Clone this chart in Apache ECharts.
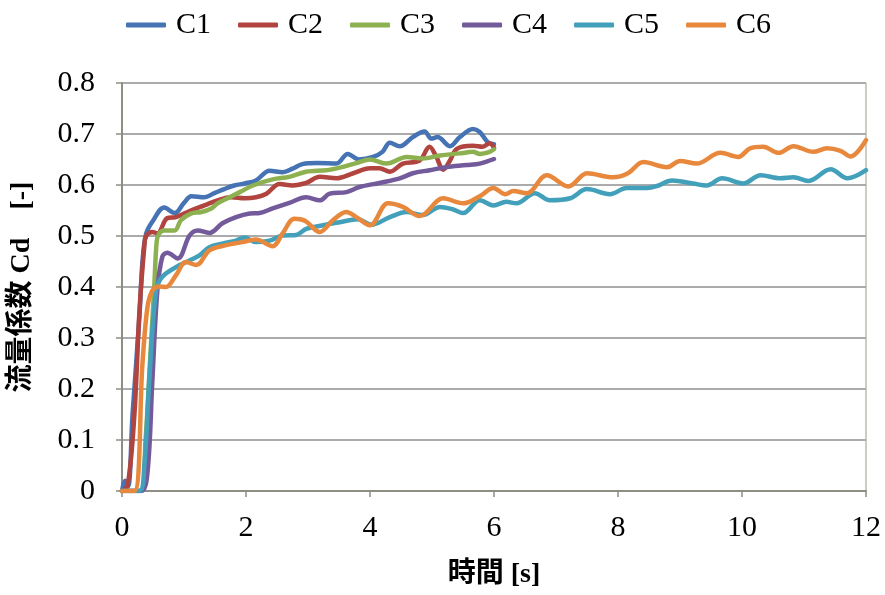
<!DOCTYPE html>
<html>
<head>
<meta charset="utf-8">
<script src="https://cdn.jsdelivr.net/npm/echarts@6/dist/echarts.min.js"></script>
<style>
  html, body { margin: 0; padding: 0; background: #ffffff; }
  #chart { width: 885px; height: 595px; }
</style>
</head>
<body>
<div id="chart"></div>
<script>
// Flow coefficient Cd vs time for six cases
const seriesNames = ['C1', 'C2', 'C3', 'C4', 'C5', 'C6'];
const xTicks = [0, 2, 4, 6, 8, 10, 12];
const yTicks = [0, 0.1, 0.2, 0.3, 0.4, 0.5, 0.6, 0.7, 0.8];

const tC1 = [0, 0.05, 0.1, 0.17, 0.28, 0.33, 0.39, 0.5, 0.68, 0.85, 1.0, 1.12, 1.33, 1.49, 1.65, 1.81, 1.98, 2.16, 2.38, 2.59, 2.75, 2.91, 3.15, 3.46, 3.64, 3.82, 4.05, 4.2, 4.32, 4.48, 4.69, 4.88, 4.99, 5.09, 5.29, 5.45, 5.66, 5.77, 5.9, 6.0];
const cdC1 = [0, 0.02, 0.01, 0.15, 0.34, 0.45, 0.505, 0.53, 0.556, 0.545, 0.565, 0.578, 0.576, 0.584, 0.592, 0.599, 0.603, 0.609, 0.628, 0.625, 0.632, 0.641, 0.643, 0.642, 0.661, 0.65, 0.655, 0.665, 0.683, 0.676, 0.694, 0.705, 0.691, 0.694, 0.676, 0.694, 0.71, 0.704, 0.684, 0.68];

const tC2 = [0, 0.09, 0.2, 0.28, 0.36, 0.39, 0.49, 0.57, 0.73, 0.87, 1.11, 1.33, 1.54, 1.76, 1.98, 2.16, 2.33, 2.54, 2.75, 2.97, 3.19, 3.46, 3.73, 4.0, 4.15, 4.32, 4.53, 4.8, 4.96, 5.07, 5.18, 5.29, 5.4, 5.66, 5.82, 5.93, 6.0];
const cdC2 = [0, 0.01, 0.15, 0.35, 0.48, 0.5, 0.508, 0.505, 0.535, 0.537, 0.55, 0.56, 0.57, 0.576, 0.574, 0.576, 0.583, 0.602, 0.599, 0.604, 0.616, 0.613, 0.623, 0.633, 0.633, 0.626, 0.642, 0.648, 0.675, 0.655, 0.63, 0.648, 0.671, 0.677, 0.675, 0.682, 0.673];

const tC3 = [0, 0.3, 0.38, 0.45, 0.52, 0.56, 0.6, 0.68, 0.85, 0.95, 1.11, 1.28, 1.44, 1.54, 1.7, 1.9, 2.11, 2.43, 2.7, 2.97, 3.3, 3.51, 3.78, 4.0, 4.27, 4.59, 4.85, 5.13, 5.45, 5.66, 5.77, 5.93, 6.0];
const cdC3 = [0, 0, 0.1, 0.25, 0.4, 0.49, 0.505, 0.511, 0.511, 0.531, 0.544, 0.547, 0.554, 0.564, 0.574, 0.586, 0.599, 0.611, 0.616, 0.626, 0.629, 0.634, 0.643, 0.65, 0.642, 0.655, 0.652, 0.658, 0.662, 0.665, 0.661, 0.665, 0.67];

const tC4 = [0, 0.31, 0.41, 0.49, 0.57, 0.65, 0.73, 0.9, 1.09, 1.22, 1.41, 1.62, 1.84, 2.06, 2.22, 2.43, 2.7, 2.97, 3.19, 3.35, 3.62, 3.83, 4.15, 4.48, 4.69, 4.96, 5.23, 5.56, 5.77, 6.0];
const cdC4 = [0, 0, 0.035, 0.217, 0.393, 0.459, 0.467, 0.456, 0.501, 0.511, 0.506, 0.525, 0.537, 0.544, 0.545, 0.554, 0.565, 0.576, 0.57, 0.583, 0.586, 0.596, 0.604, 0.613, 0.623, 0.629, 0.635, 0.639, 0.642, 0.651];

const tC5 = [0, 0.28, 0.36, 0.44, 0.55, 0.65, 0.87, 1.09, 1.25, 1.41, 1.62, 1.84, 1.98, 2.16, 2.38, 2.59, 2.81, 2.97, 3.24, 3.51, 3.8, 4.02, 4.32, 4.59, 4.85, 5.13, 5.34, 5.5, 5.77, 5.99, 6.2, 6.36, 6.66, 6.9, 7.23, 7.5, 7.87, 8.14, 8.47, 8.63, 8.87, 9.21, 9.43, 9.68, 10.02, 10.3, 10.62, 10.83, 11.07, 11.43, 11.7, 12.0];
const cdC5 = [0, 0, 0.05, 0.217, 0.393, 0.42, 0.439, 0.452, 0.462, 0.478, 0.485, 0.491, 0.497, 0.488, 0.491, 0.501, 0.502, 0.514, 0.521, 0.527, 0.533, 0.522, 0.537, 0.547, 0.541, 0.557, 0.552, 0.545, 0.57, 0.56, 0.567, 0.564, 0.584, 0.57, 0.574, 0.592, 0.582, 0.594, 0.594, 0.598, 0.609, 0.603, 0.599, 0.613, 0.603, 0.619, 0.613, 0.615, 0.608, 0.631, 0.613, 0.629];

const tC6 = [0, 0.2, 0.33, 0.41, 0.49, 0.6, 0.71, 0.87, 1.03, 1.2, 1.41, 1.68, 1.94, 2.16, 2.43, 2.59, 2.78, 2.95, 3.19, 3.4, 3.62, 3.78, 4.0, 4.29, 4.53, 4.8, 5.18, 5.5, 5.77, 5.99, 6.18, 6.31, 6.53, 6.85, 7.2, 7.5, 7.92, 8.16, 8.41, 8.79, 9.0, 9.27, 9.65, 9.94, 10.13, 10.34, 10.59, 10.83, 11.15, 11.37, 11.59, 11.75, 12.0];
const cdC6 = [0, 0, 0.25, 0.36, 0.393, 0.401, 0.4, 0.423, 0.449, 0.443, 0.472, 0.482, 0.488, 0.493, 0.48, 0.505, 0.534, 0.53, 0.508, 0.531, 0.547, 0.537, 0.521, 0.564, 0.557, 0.539, 0.574, 0.564, 0.578, 0.594, 0.582, 0.588, 0.584, 0.619, 0.597, 0.623, 0.615, 0.623, 0.645, 0.635, 0.647, 0.642, 0.663, 0.655, 0.672, 0.675, 0.663, 0.676, 0.665, 0.672, 0.667, 0.656, 0.688];

const times = [tC1, tC2, tC3, tC4, tC5, tC6];
const values = [cdC1, cdC2, cdC3, cdC4, cdC5, cdC6];
const colors = ['#4573B3', '#B2443F', '#8DB150', '#735A9B', '#42A0BA', '#E8883C'];

const serif = '"Liberation Serif", "Times New Roman", serif';
// Latin glyphs in a bold serif, kanji fall back to the CJK gothic
const titleFont = '"Liberation Serif", "Noto Sans CJK JP", sans-serif';

const chart = echarts.init(document.getElementById('chart'), null, { renderer: 'canvas' });

const series = seriesNames.map((name, i) => ({
  name: name,
  type: 'line',
  data: times[i].map((t, k) => [t, values[i][k]]),
  showSymbol: false,
  symbol: 'none',
  smooth: 0.35,
  lineStyle: { color: colors[i], width: 4.5, cap: 'round', join: 'round' },
  itemStyle: { color: colors[i] },
  z: 2 + i
}));

chart.setOption({
  animation: false,
  backgroundColor: '#ffffff',
  legend: {
    data: seriesNames,
    top: 5,
    left: 121,
    icon: 'roundRect',
    itemWidth: 40,
    itemHeight: 5,
    itemGap: 27,
    textStyle: { fontFamily: serif, fontSize: 30, color: '#000000', padding: [0, 0, 0, 5] }
  },
  grid: {
    left: 122,
    right: 19,
    top: 83,
    bottom: 104,
    show: true,
    borderColor: '#9C9A84',
    borderWidth: 1,
    containLabel: false
  },
  xAxis: {
    type: 'value',
    min: xTicks[0],
    max: xTicks[xTicks.length - 1],
    interval: 2,
    name: '時間 [s]',
    nameLocation: 'middle',
    nameGap: 70,
    nameTextStyle: { fontFamily: titleFont, fontSize: 28, fontWeight: 'bold', color: '#000000' },
    axisLine: { show: true, lineStyle: { color: '#8E8E84', width: 2 } },
    axisTick: { show: true, inside: false, length: 6, lineStyle: { color: '#8E8E84', width: 1.5 } },
    axisLabel: { fontFamily: serif, fontSize: 30, color: '#000000', margin: 22 },
    splitLine: { show: false }
  },
  yAxis: {
    type: 'value',
    min: yTicks[0],
    max: yTicks[yTicks.length - 1],
    interval: 0.1,
    name: '流量係数 Cd\u3000[-]',
    nameLocation: 'middle',
    nameGap: 86,
    nameTextStyle: { fontFamily: titleFont, fontSize: 28, fontWeight: 'bold', color: '#000000' },
    axisLine: { show: true, lineStyle: { color: '#8E8E84', width: 2 } },
    axisTick: { show: true, inside: false, length: 6, lineStyle: { color: '#8E8E84', width: 1.5 } },
    axisLabel: { fontFamily: serif, fontSize: 30, color: '#000000', margin: 27 },
    splitLine: { show: true, lineStyle: { color: '#ABABAB', width: 2 } }
  },
  series: series
});
</script>
</body>
</html>
